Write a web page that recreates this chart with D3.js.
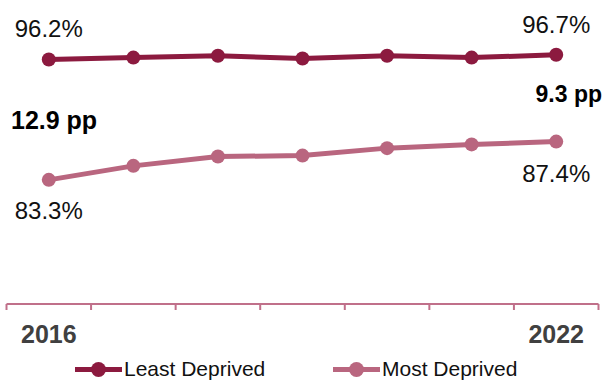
<!DOCTYPE html>
<html>
<head>
<meta charset="utf-8">
<script src="https://cdn.jsdelivr.net/npm/d3@7"></script>
<style>
  html, body { margin: 0; padding: 0; background: #fff; }
  svg { display: block; font-family: "Liberation Sans", Arial, sans-serif; }
</style>
</head>
<body>
<svg id="chart" width="610" height="380"></svg>
<script>
// Share of pupils, least vs most deprived areas, 2016–2022
const years = ["2016", "2017", "2018", "2019", "2020", "2021", "2022"];
const leastDeprived = [96.2, 96.4, 96.6, 96.3, 96.6, 96.4, 96.7];
const mostDeprived = [83.3, 84.8, 85.8, 85.9, 86.7, 87.1, 87.4];
const shownYearLabels = ["2016", "2022"];
const gapLabels = ["12.9 pp", "9.3 pp"];
const seriesNames = ["Least Deprived", "Most Deprived"];

const colLeast = "#8C1A3F";
const colMost = "#B9667F";
const colAxis = "#C0708A";

const svg = d3.select("#chart");

const x = d3.scaleBand().domain(years).range([6.5, 598.5]);
const y = d3.scaleLinear().domain([70, 100]).range([304, 24]);
const cx = d => x(d) + x.bandwidth() / 2;

// x axis: baseline with tick marks at category boundaries
const axisG = svg.append("g");
axisG.append("line")
  .attr("x1", x.range()[0]).attr("x2", x.range()[1])
  .attr("y1", y(70)).attr("y2", y(70))
  .attr("stroke", colAxis).attr("stroke-width", 2);
const bounds = years.map(d => x(d)).concat([x(years[years.length - 1]) + x.step()]);
axisG.selectAll("line.tick").data(bounds).enter().append("line")
  .attr("class", "tick")
  .attr("x1", d => d).attr("x2", d => d)
  .attr("y1", y(70)).attr("y2", y(70) + 6)
  .attr("stroke", colAxis).attr("stroke-width", 2);

// first and last year labels
const xAxis = d3.axisBottom(x).tickSize(0).tickPadding(0)
  .tickFormat(d => shownYearLabels.includes(d) ? d : "");
const ag = svg.append("g").attr("transform", `translate(0,${y(70)})`).call(xAxis);
ag.select(".domain").remove();
ag.selectAll("text")
  .attr("dy", null).attr("y", 39)
  .attr("font-size", 25).attr("font-weight", "bold")
  .attr("fill", "#404040")
  .attr("font-family", "'Liberation Sans', Arial, sans-serif");

// series lines and markers
const series = [
  { name: seriesNames[0], values: leastDeprived, color: colLeast },
  { name: seriesNames[1], values: mostDeprived, color: colMost }
];
const line = d3.line().x((v, i) => cx(years[i])).y(v => y(v));

series.forEach(s => {
  svg.append("path")
    .datum(s.values)
    .attr("d", line)
    .attr("fill", "none")
    .attr("stroke", s.color)
    .attr("stroke-width", 5)
    .attr("stroke-linejoin", "round");
  svg.selectAll(null).data(s.values).enter().append("circle")
    .attr("cx", (v, i) => cx(years[i]))
    .attr("cy", v => y(v))
    .attr("r", 7)
    .attr("fill", s.color);
});

// end-point value labels
const first = 0, last = years.length - 1;
const valueLabels = [
  { i: first, v: leastDeprived[first], dy: -22 },
  { i: last, v: leastDeprived[last], dy: -22 },
  { i: first, v: mostDeprived[first], dy: 39 },
  { i: last, v: mostDeprived[last], dy: 40 }
];
svg.selectAll("text.val").data(valueLabels).enter().append("text")
  .attr("class", "val")
  .attr("x", d => cx(years[d.i]))
  .attr("y", d => y(d.v) + d.dy)
  .attr("text-anchor", "middle")
  .attr("font-size", 24)
  .attr("fill", "#111")
  .text(d => d.v.toFixed(1) + "%");

// gap annotations
svg.append("text")
  .attr("x", 11).attr("y", 128.5)
  .attr("font-size", 25).attr("font-weight", "bold").attr("fill", "#000")
  .text(gapLabels[0]);
svg.append("text")
  .attr("x", 602).attr("y", 101.5)
  .attr("text-anchor", "end")
  .attr("font-size", 23).attr("font-weight", "bold").attr("fill", "#000")
  .text(gapLabels[1]);

// legend
const legendItems = [
  { name: seriesNames[0], color: colLeast, x0: 75 },
  { name: seriesNames[1], color: colMost, x0: 333 }
];
const lg = svg.selectAll("g.legend").data(legendItems).enter().append("g")
  .attr("class", "legend")
  .attr("transform", d => `translate(${d.x0},369.5)`);
lg.append("line")
  .attr("x1", 0).attr("x2", 47).attr("y1", 0).attr("y2", 0)
  .attr("stroke", d => d.color).attr("stroke-width", 5);
lg.append("circle")
  .attr("cx", 23.5).attr("cy", 0).attr("r", 7.5)
  .attr("fill", d => d.color);
lg.append("text")
  .attr("x", 49).attr("y", 6)
  .attr("font-size", 21).attr("fill", "#111")
  .text(d => d.name);
</script>
</body>
</html>
